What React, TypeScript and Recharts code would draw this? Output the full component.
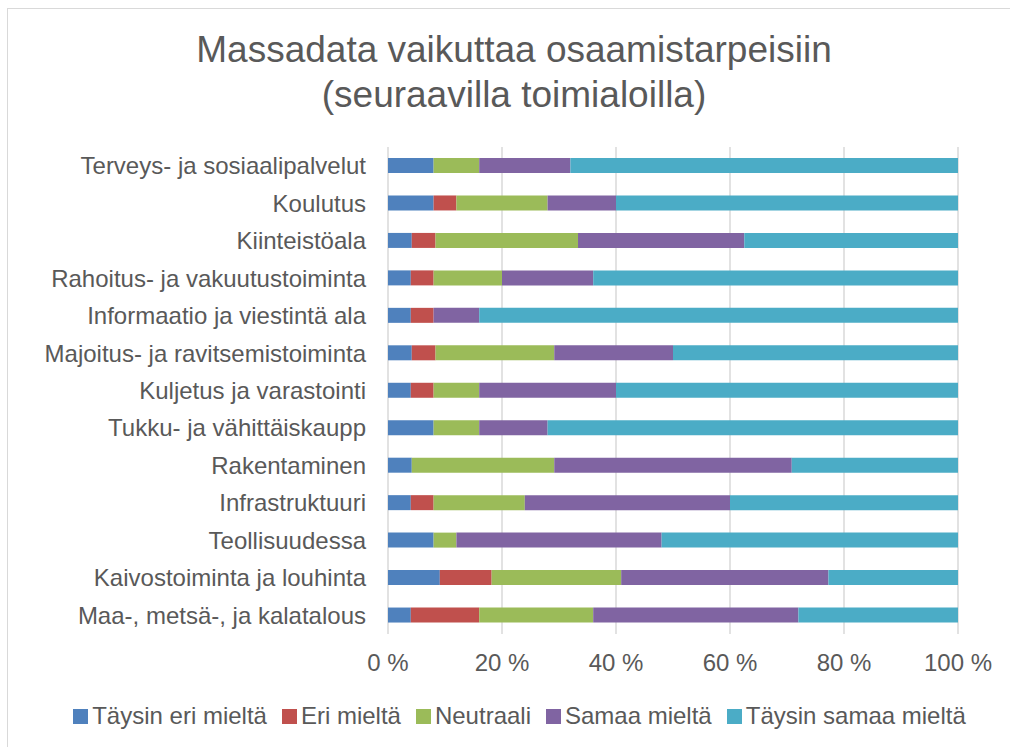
import { Bar, BarChart, CartesianGrid, Legend, XAxis, YAxis } from "recharts";

const FONT = '"Liberation Sans", Arial, sans-serif';
const TEXT = "#595959";

const categories = [
  "Terveys- ja sosiaalipalvelut",
  "Koulutus",
  "Kiinteistöala",
  "Rahoitus- ja vakuutustoiminta",
  "Informaatio ja viestintä ala",
  "Majoitus- ja ravitsemistoiminta",
  "Kuljetus ja varastointi",
  "Tukku- ja vähittäiskaupp",
  "Rakentaminen",
  "Infrastruktuuri",
  "Teollisuudessa",
  "Kaivostoiminta ja louhinta",
  "Maa-, metsä-, ja kalatalous",
];

// shares in %
const taysinEri = [8, 8, 4.17, 4, 4, 4.17, 4, 8, 4.17, 4, 8, 9.09, 4];
const eri = [0, 4, 4.17, 4, 4, 4.17, 4, 0, 0, 4, 0, 9.09, 12];
const neutraali = [8, 16, 25, 12, 0, 20.83, 8, 8, 25, 16, 4, 22.73, 20];
const samaa = [16, 12, 29.17, 16, 8, 20.83, 24, 12, 41.67, 36, 36, 36.36, 36];
const taysinSamaa = [68, 60, 37.5, 64, 84, 50, 60, 72, 29.17, 40, 52, 22.73, 28];

const xTicks = [0, 0.2, 0.4, 0.6, 0.8, 1];

const series = [
  { key: "taysinEri", name: "Täysin eri mieltä", color: "#4F81BD" },
  { key: "eri", name: "Eri mieltä", color: "#C0504D" },
  { key: "neutraali", name: "Neutraali", color: "#9BBB59" },
  { key: "samaa", name: "Samaa mieltä", color: "#8064A2" },
  { key: "taysinSamaa", name: "Täysin samaa mieltä", color: "#4BACC6" },
];

const data = categories.map((name, i) => ({
  name,
  taysinEri: taysinEri[i],
  eri: eri[i],
  neutraali: neutraali[i],
  samaa: samaa[i],
  taysinSamaa: taysinSamaa[i],
}));

const tickStyle = { fontSize: 24, fill: TEXT, fontFamily: FONT };

// legend in series order, Excel-like spacing
const renderLegend = () => (
  <div
    style={{
      display: "flex",
      justifyContent: "center",
      alignItems: "center",
      fontSize: 24,
      lineHeight: "28px",
      color: TEXT,
      fontFamily: FONT,
    }}
  >
    {series.map((s) => (
      <span
        key={s.key}
        style={{ display: "inline-flex", alignItems: "center", marginRight: 15 }}
      >
        <span
          style={{
            display: "inline-block",
            width: 15,
            height: 15,
            background: s.color,
            marginRight: 4,
          }}
        />
        {s.name}
      </span>
    ))}
  </div>
);

export default function App() {
  return (
    <div
      style={{
        position: "absolute",
        left: 7,
        top: 8,
        width: 1010,
        height: 745,
        borderTop: "1px solid #d9d9d9",
        borderLeft: "1px solid #d9d9d9",
        fontFamily: FONT,
        background: "#fff",
      }}
    >
      <div
        style={{
          position: "absolute",
          left: 0,
          top: 18,
          width: 1012,
          textAlign: "center",
          fontSize: 37,
          lineHeight: "45px",
          color: TEXT,
        }}
      >
        Massadata vaikuttaa osaamistarpeisiin
        <br />
        (seuraavilla toimialoilla)
      </div>
      <BarChart
        width={1002}
        height={738}
        data={data}
        layout="vertical"
        stackOffset="expand"
        margin={{ top: 138, right: 52, bottom: 17, left: 0 }}
      >
        <CartesianGrid horizontal={false} stroke="#d9d9d9" strokeWidth={1.5} />
        <XAxis
          type="number"
          domain={[0, 1]}
          ticks={xTicks}
          tickFormatter={(v: number) => `${Math.round(v * 100)} %`}
          axisLine={false}
          tickLine={false}
          tickSize={0}
          tickMargin={20}
          height={68}
          tick={tickStyle}
        />
        <YAxis
          type="category"
          dataKey="name"
          width={380}
          interval={0}
          axisLine={false}
          tickLine={false}
          tickSize={0}
          tickMargin={22}
          tick={tickStyle}
        />
        {series.map((s) => (
          <Bar
            key={s.key}
            dataKey={s.key}
            name={s.name}
            stackId="a"
            fill={s.color}
            barSize={15}
            isAnimationActive={false}
          />
        ))}
        <Legend
          verticalAlign="bottom"
          content={renderLegend}
          wrapperStyle={{ left: 0, width: 1038 }}
        />
      </BarChart>
    </div>
  );
}
